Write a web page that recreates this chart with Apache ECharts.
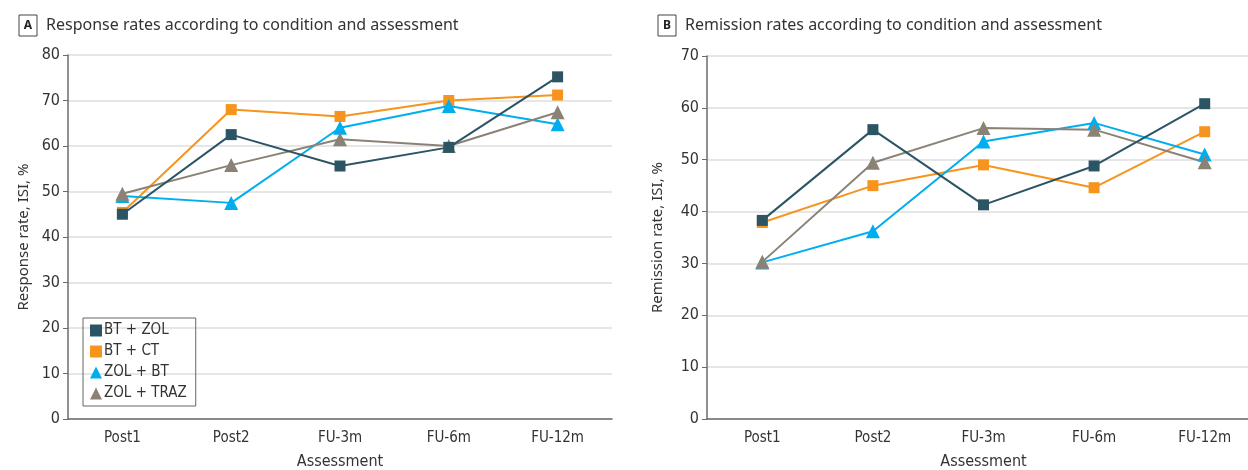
<!DOCTYPE html>
<html>
<head>
<meta charset="utf-8">
<script src="https://cdn.jsdelivr.net/npm/echarts@6/dist/echarts.min.js"></script>
<style>
html,body{margin:0;padding:0;background:#fff;}
#chart{width:1248px;height:470px;}
</style>
</head>
<body>
<div id="chart"></div>
<script>
var categories = ['Post1', 'Post2', 'FU-3m', 'FU-6m', 'FU-12m'];
var seriesNames = ['BT + ZOL', 'BT + CT', 'ZOL + BT', 'ZOL + TRAZ'];

// Panel A: response rates (%)
var respBTZOL   = [45.0, 62.5, 55.6, 59.7, 75.2];
var respBTCT    = [45.4, 68.0, 66.5, 70.0, 71.2];
var respZOLBT   = [49.0, 47.5, 64.0, 68.8, 64.8];
var respZOLTRAZ = [49.5, 55.8, 61.5, 60.0, 67.4];

// Panel B: remission rates (%)
var remBTZOL   = [38.3, 55.8, 41.3, 48.8, 60.8];
var remBTCT    = [37.9, 45.0, 49.0, 44.6, 55.4];
var remZOLBT   = [30.2, 36.2, 53.5, 57.1, 51.0];
var remZOLTRAZ = [30.3, 49.4, 56.1, 55.8, 49.5];

var colors = ['#2b5464', '#f7941d', '#00aeef', '#8b8276'];
var symbols = ['rect', 'rect', 'triangle', 'triangle'];
var FONT = '"Liberation Sans Narrow", "DejaVu Sans Condensed", "Noto Sans", sans-serif';
var FONT2 = '"Noto Sans", "Open Sans", sans-serif';

function mkSeries(dataArr, gi) {
  return dataArr.map(function (d, i) {
    return {
      name: seriesNames[i],
      type: 'line',
      xAxisIndex: gi, yAxisIndex: gi,
      data: d,
      symbol: symbols[i],
      symbolSize: symbols[i] === 'rect' ? 11 : 14,
      showSymbol: true,
      lineStyle: { color: colors[i], width: 2 },
      itemStyle: { color: colors[i] },
      z: 2 + (i === 0 ? 1 : 0),
      animation: false
    };
  });
}

function xAxis(gi) {
  return {
    type: 'category', gridIndex: gi, data: categories,
    boundaryGap: true,
    name: 'Assessment', nameLocation: 'middle', nameGap: 35,
    nameTextStyle: { fontFamily: FONT, fontSize: 16, color: '#333' },
    axisLine: { lineStyle: { color: '#6b6b6b', width: 1.5 } },
    axisTick: { alignWithLabel: true, length: 5, lineStyle: { color: '#6b6b6b' } },
    axisLabel: { fontFamily: FONT, fontSize: 15, color: '#333', margin: 12 },
    splitLine: { show: false }
  };
}

function yAxis(gi, max, name, gap) {
  return {
    type: 'value', gridIndex: gi, min: 0, max: max, interval: 10,
    name: name, nameLocation: 'middle', nameGap: gap, nameRotate: 90,
    nameTextStyle: { fontFamily: FONT2, fontSize: 15, color: '#333' },
    axisLine: { show: true, lineStyle: { color: '#6b6b6b', width: 1.5 } },
    axisTick: { show: true, length: 5, lineStyle: { color: '#6b6b6b' } },
    axisLabel: { fontFamily: FONT, fontSize: 16, color: '#333', margin: 8 },
    splitLine: { show: true, lineStyle: { color: '#dedede', width: 1.5 } }
  };
}

var titleRich = {
  box: { fontFamily: FONT2, fontWeight: 'bold', fontSize: 12, color: '#222',
         borderColor: '#444', borderWidth: 1, padding: [5, 5, 4, 5], width: 8, align: 'center' },
  t: { fontFamily: FONT2, fontWeight: 'normal', fontSize: 16, color: '#333', padding: [0, 0, 0, 9] }
};

var chart = echarts.init(document.getElementById('chart'), null, { renderer: 'canvas' });
chart.setOption({
  animation: false,
  backgroundColor: '#fff',
  title: [
    {
      text: '{box|A}{t|Response rates according to condition and assessment}',
      left: 14, top: 10,
      textStyle: { fontWeight: 'normal', rich: titleRich }
    },
    {
      text: '{box|B}{t|Remission rates according to condition and assessment}',
      left: 653, top: 10,
      textStyle: { fontWeight: 'normal', rich: titleRich }
    }
  ],
  legend: {
    orient: 'vertical',
    left: 83, top: 318,
    itemWidth: 12, itemHeight: 12, itemGap: 6,
    padding: [5, 9, 5, 7],
    borderColor: '#666', borderWidth: 1,
    textStyle: { fontFamily: FONT, fontSize: 15, color: '#333', padding: [0, 0, 0, -3] },
    data: [
      { name: 'BT + ZOL', icon: 'rect' },
      { name: 'BT + CT', icon: 'rect' },
      { name: 'ZOL + BT', icon: 'triangle' },
      { name: 'ZOL + TRAZ', icon: 'triangle' }
    ],
    selectedMode: false
  },
  grid: [
    { left: 68, top: 55, width: 544, height: 364, outerBoundsMode: 'none', containLabel: false },
    { left: 707, top: 56, width: 553, height: 363, outerBoundsMode: 'none', containLabel: false }
  ],
  xAxis: [xAxis(0), xAxis(1)],
  yAxis: [
    yAxis(0, 80, 'Response rate, ISI, %', 37),
    yAxis(1, 70, 'Remission rate, ISI, %', 42)
  ],
  series: mkSeries([respBTZOL, respBTCT, respZOLBT, respZOLTRAZ], 0)
    .concat(mkSeries([remBTZOL, remBTCT, remZOLBT, remZOLTRAZ], 1))
});
</script>
</body>
</html>
